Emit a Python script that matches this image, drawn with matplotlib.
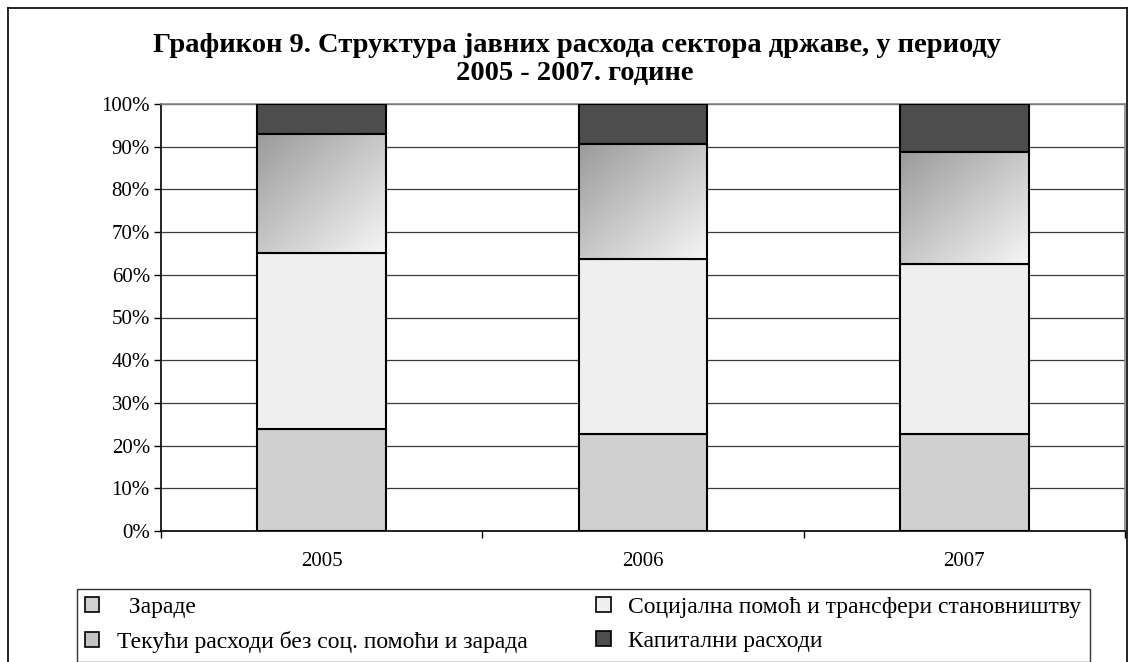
import numpy as np
import matplotlib
matplotlib.use("Agg")
import matplotlib.pyplot as plt
from matplotlib.patches import Patch
from matplotlib.lines import Line2D
from matplotlib.colors import LinearSegmentedColormap

years = ["2005", "2006", "2007"]
zarade = [23.9, 22.8, 22.8]
socijalna = [41.2, 40.8, 39.7]
tekuci = [27.9, 27.1, 26.3]
kapitalni = [7.0, 9.3, 11.2]
labels = ["  Зараде", "Социјална помоћ и трансфери становништву",
          "Текући расходи без соц. помоћи и зарада", "Капитални расходи"]
title1 = "Графикон 9. Структура јавних расхода сектора државе, у периоду"
title2 = "2005 - 2007. године"

plt.rcParams['font.family'] = ['Liberation Serif', 'DejaVu Serif']

W, H = 1130, 662
fig = plt.figure(figsize=(W / 100, H / 100), dpi=100)
fig.patch.set_facecolor('white')

# outer frame
for xs, ys in [([8, 8], [0, 654]), ([8, 1127], [654, 654]), ([1127, 1127], [654, 0])]:
    fig.add_artist(Line2D(np.array(xs) / W, np.array(ys) / H, color='black', lw=1.2,
                          transform=fig.transFigure))

ax = fig.add_axes([161 / W, 1 - 531 / H, (1125 - 161) / W, (531 - 104) / H])
x = np.arange(len(years))
w = 0.4

c_zar = '#d0d0d0'
c_soc = '#efefef'
c_kap = '#4d4d4d'
ec = 'black'
lw = 1.5

z = np.array(zarade)
s = np.array(socijalna)
t = np.array(tekuci)
k = np.array(kapitalni)

ax.bar(x, z, w, color=c_zar, edgecolor=ec, linewidth=lw, zorder=3)
ax.bar(x, s, w, bottom=z, color=c_soc, edgecolor=ec, linewidth=lw, zorder=3)
tb = ax.bar(x, t, w, bottom=z + s, color='none', edgecolor=ec, linewidth=lw, zorder=4)
ax.bar(x, k, w, bottom=z + s + t, color=c_kap, edgecolor=ec, linewidth=lw, zorder=3)

cmap = LinearSegmentedColormap.from_list('g', ['#9a9a9a', '#f6f6f6'])
n = 200
u = np.linspace(0, 1, n)
U, V = np.meshgrid(u, u)  # V: 0 at top row
grad = (U + V) / 2
for rect in tb.patches:
    x0, y0 = rect.get_x(), rect.get_y()
    im = ax.imshow(grad, cmap=cmap, extent=[x0, x0 + rect.get_width(), y0, y0 + rect.get_height()],
                   origin='upper', aspect='auto', zorder=3.5, interpolation='bilinear')
    im.set_clip_path(rect)

ax.set_xlim(-0.5, 2.5)
ax.set_ylim(0, 100)
ax.set_yticks(np.arange(0, 101, 10))
ax.set_yticklabels([f"{v}%" for v in range(0, 101, 10)], fontsize=15)
ax.set_xticks(x)
ax.set_xticklabels(years, fontsize=15)
ax.set_xticks([-0.5, 0.5, 1.5, 2.5], minor=True)
ax.tick_params(axis='x', which='major', length=0, pad=15)
ax.tick_params(axis='x', which='minor', length=5, width=1, direction='out')
ax.tick_params(axis='y', length=5, width=1, direction='out', pad=3)
ax.yaxis.grid(True, color='#3a3a3a', lw=0.9, zorder=0)
ax.set_axisbelow(True)
for sp in ['left', 'bottom']:
    ax.spines[sp].set_color('black')
    ax.spines[sp].set_linewidth(1.2)
for sp in ['top', 'right']:
    ax.spines[sp].set_color('#888888')
    ax.spines[sp].set_linewidth(1.2)

fig.text(577 / W, 1 - 52 / H, title1, ha='center', va='baseline', fontsize=20.5,
         fontweight='bold')
fig.text(575 / W, 1 - 80 / H, title2, ha='center', va='baseline', fontsize=20.5,
         fontweight='bold')

handles = [Patch(facecolor=c_zar, edgecolor='black', lw=1.2),
           Patch(facecolor=c_soc, edgecolor='black', lw=1.2),
           Patch(facecolor='#c4c4c4', edgecolor='black', lw=1.2),
           Patch(facecolor=c_kap, edgecolor='black', lw=1.2)]
order = [0, 2, 1, 3]
leg = fig.legend([handles[i] for i in order], [labels[i] for i in order], ncol=2,
                 loc='upper left', bbox_to_anchor=(77 / W, 1 - 589 / H),
                 fontsize=17, frameon=True, fancybox=False, edgecolor='black',
                 handlelength=0.6, handleheight=0.6, handletextpad=0.75,
                 columnspacing=2.9, borderpad=0.35, labelspacing=0.55, borderaxespad=0)
leg.get_frame().set_linewidth(1.0)

fig.savefig('out.png', dpi=100, facecolor='white')
